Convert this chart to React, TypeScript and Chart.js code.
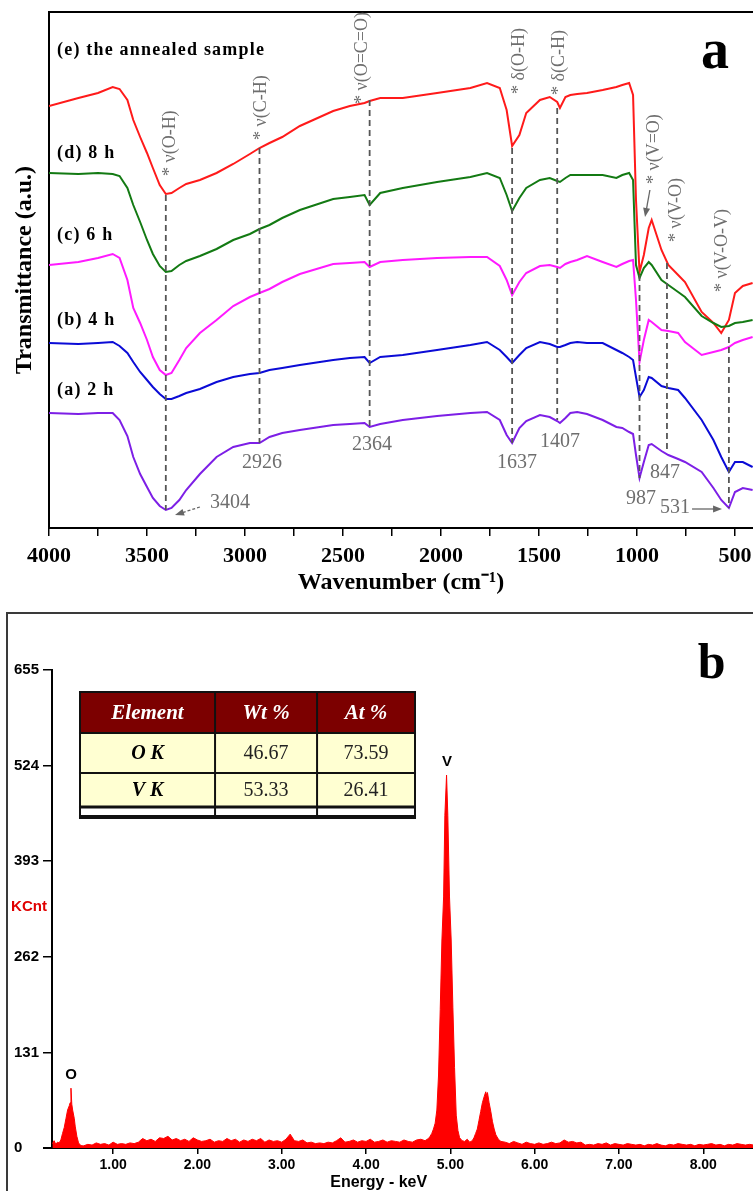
import React, { useEffect, useRef } from 'react';
import { Chart, registerables } from 'chart.js';

Chart.register(...registerables);

const SERIF = '"Liberation Serif", "Times New Roman", serif';
const SANS = '"Liberation Sans", Arial, sans-serif';

// ---------------- Panel a : FTIR ----------------
const wavenumbers = [4000, 3850, 3750, 3675, 3640, 3600, 3570, 3535, 3500, 3470, 3435, 3404, 3375, 3335, 3300, 3230, 3145, 3060, 2975, 2926, 2875, 2810, 2720, 2550, 2465, 2390, 2364, 2310, 2195, 2020, 1850, 1765, 1700, 1665, 1637, 1600, 1565, 1495, 1445, 1407, 1393, 1365, 1340, 1305, 1255, 1175, 1105, 1075, 1040, 1020, 1005, 987, 965, 940, 925, 875, 840, 790, 755, 670, 610, 570, 531, 500, 460, 410];

const series2h = [23, 22.8, 23, 23, 21.6, 18.4, 14.2, 10.8, 8.2, 6, 4.4, 3.6, 4, 5.6, 7.6, 10.8, 14.2, 16.2, 17, 17, 18.2, 19, 19.6, 20.6, 20.8, 21, 20.2, 20.8, 21.6, 22.4, 23, 23.2, 21.6, 18.6, 17, 20, 21.4, 22.6, 22.2, 21.4, 21, 22, 23, 23.2, 22.8, 21.6, 20.2, 20, 19.2, 18.8, 14.6, 10, 13.2, 16.6, 16.8, 15.4, 14.6, 13.8, 13.2, 11.2, 8, 5.6, 4, 7.2, 8, 7.6];
const series4h = [37, 36.8, 37, 37.2, 36.4, 35, 33.2, 31.2, 29.6, 28.2, 26.8, 25.8, 25.8, 26.4, 27, 27.8, 29.2, 30.2, 30.8, 31, 31.6, 32, 32.6, 33.6, 34, 34.2, 33, 34.2, 34.6, 35.6, 36.6, 37.2, 35.6, 34.2, 33, 34.6, 36, 37.2, 36.8, 36.2, 36.2, 36.6, 37, 37.2, 37, 37, 35.6, 35, 34.2, 33.6, 30.2, 26.2, 27.6, 30.2, 30, 28.4, 28, 27.6, 26, 21.6, 17.6, 14.2, 11.2, 13.2, 13.2, 12.2];
const series6h = [52.6, 53.2, 54, 54.8, 54, 49.6, 44, 41, 37.6, 34.2, 31.6, 30.6, 31, 33.6, 36, 39, 41.6, 44.4, 46.2, 47, 47.8, 49.2, 50.8, 52.8, 53, 53.2, 52.2, 53.2, 53.6, 54, 54.2, 54.2, 52.4, 49.6, 46.6, 49.2, 51, 52.4, 52.6, 52.2, 52, 52.8, 53.2, 53.6, 54.4, 53.2, 52.2, 52.8, 53.4, 53.6, 45.6, 33.2, 37.6, 41.6, 41.2, 39.6, 39.4, 39, 37.2, 34.6, 35.2, 35.6, 36.2, 37, 37.6, 38.2];
const series8h = [71, 70.8, 71, 70.8, 70.4, 68, 64.6, 61.2, 57.6, 54.8, 52.4, 51.2, 51.4, 52.6, 53.4, 54.4, 55.8, 57.6, 58.8, 59.8, 60.6, 62, 63.6, 65.8, 66.2, 66.6, 64.6, 67, 68, 69.2, 70.2, 71, 70, 66.6, 63.4, 66, 68, 69.6, 70, 69.4, 69.2, 70, 70.6, 70.6, 70.6, 70.6, 70, 70.6, 71, 69.6, 52.6, 50, 52, 53.2, 52.6, 49.6, 48.6, 47.2, 46.2, 42.4, 41, 40.2, 40.4, 41, 41.2, 41.6];
const seriesAnnealed = [84.4, 86, 87, 88.2, 87.8, 85.6, 81.6, 78.2, 75, 72, 68.6, 66.8, 67, 68, 68.8, 69.6, 71, 72.8, 74.8, 76, 77, 78.2, 80.4, 83.4, 84.4, 85, 85.4, 86, 86, 87, 88, 89, 88, 83.6, 76.4, 78.6, 83, 85.6, 86.2, 85.2, 84, 86.2, 86.6, 86.8, 87, 87.6, 88.2, 88.6, 89, 86.6, 65.6, 51.2, 54.6, 60, 61.6, 55.6, 52.6, 50.6, 49.2, 43.2, 41, 39, 41.6, 47, 48.4, 49];

const seriesNames = ['(a) 2 h', '(b) 4 h', '(c) 6 h', '(d) 8 h', '(e) the annealed sample'];
const seriesColors = ['#7d1fe6', '#0b0bd6', '#ff1aff', '#137a13', '#ff1a1a'];
const seriesLabelY = [27.6, 41.6, 58.6, 75, 95.6];
const seriesLabelX = 3959;

const ftirTickValues = [4000, 3750, 3500, 3250, 3000, 2750, 2500, 2250, 2000, 1750, 1500, 1250, 1000, 750, 500];
const ftirTickLabels = ['4000', '', '3500', '', '3000', '', '2500', '', '2000', '', '1500', '', '1000', '', '500'];

const bandLines = [3404, 2926, 2364, 1637, 1407, 987, 847, 531];
const bandLineTop = [66.6, 76, 85.6, 76, 84, 50.6, 53, 38.2];
const bandLineBottom = [3.6, 17, 20.2, 17, 21.6, 10, 15, 4];
const bandNumberText = ['3404', '2926', '2364', '1637', '1407', '987', '847', '531'];
const bandNumberX = [3077, 2913, 2352, 1612, 1393, 980, 857, 806];
const bandNumberY = [5, 13, 16.6, 13, 17.2, 5.8, 11, 4];

const modeText = ['* ν(O-H)', '* ν(C-H)', '* ν(O=C=O)', '* δ(O-H)', '* δ(C-H)', '* ν(V=O)', '* ν(V-O)', '* ν(V-O-V)'];
const modeX = [3383, 2918, 2403, 1602, 1398, 913, 801, 566];
const modeY = [70.4, 77.6, 84.8, 86.8, 86.6, 68.8, 57.2, 47.2];

const arrowFromX = [3230, 719, 934];
const arrowFromY = [4.2, 3.8, 67.6];
const arrowToX = [3357, 566, 959];
const arrowToY = [2.6, 3.8, 62.2];

// ---------------- Panel b : EDS ----------------
const edsEnergy = [
  0.28, 0.30, 0.32, 0.34, 0.36, 0.38, 0.40, 0.42, 0.44, 0.46, 0.48, 0.49, 0.50, 0.51, 0.52, 0.54, 0.55, 0.57, 0.59, 0.61, 0.63,
  0.65, 0.70, 0.75, 0.80, 0.85, 0.90, 0.95, 1.00, 1.05, 1.10, 1.15, 1.20, 1.25, 1.30, 1.35, 1.40, 1.45, 1.50, 1.55, 1.60,
  1.65, 1.70, 1.75, 1.80, 1.85, 1.90, 1.95, 2.00, 2.05, 2.10, 2.15, 2.20, 2.25, 2.30, 2.35, 2.40, 2.45, 2.50, 2.55, 2.60,
  2.65, 2.70, 2.75, 2.80, 2.85, 2.90, 2.95, 3.00, 3.05, 3.10, 3.15, 3.20, 3.25, 3.30, 3.35, 3.40, 3.45, 3.50, 3.55, 3.60,
  3.65, 3.70, 3.75, 3.80, 3.85, 3.90, 3.95, 4.00, 4.05, 4.10, 4.15, 4.20, 4.25, 4.30, 4.35, 4.40, 4.45, 4.50, 4.55, 4.60,
  4.65, 4.70,
  4.74, 4.76, 4.78, 4.80, 4.82, 4.84, 4.86, 4.88, 4.90, 4.92, 4.935, 4.955, 4.97, 4.99, 5.01, 5.03, 5.05, 5.07, 5.09, 5.11, 5.14,
  5.17, 5.20, 5.23, 5.26,
  5.28, 5.30, 5.32, 5.34, 5.36, 5.38, 5.40, 5.42, 5.43, 5.44, 5.46, 5.48, 5.50, 5.52, 5.54, 5.57, 5.60,
  5.65, 5.70, 5.75, 5.80, 5.85, 5.90, 5.95, 6.00, 6.05, 6.10, 6.15, 6.20, 6.25, 6.30, 6.35, 6.40, 6.45, 6.50, 6.55, 6.60,
  6.65, 6.70, 6.75, 6.80, 6.85, 6.90, 6.95, 7.00, 7.05, 7.10, 7.15, 7.20, 7.25, 7.30, 7.35, 7.40, 7.45, 7.50, 7.55, 7.60,
  7.65, 7.70, 7.75, 7.80, 7.85, 7.90, 7.95, 8.00, 8.05, 8.10, 8.15, 8.20, 8.25, 8.30, 8.35, 8.40, 8.45, 8.50, 8.55, 8.60
];
const edsCounts = [
  6, 10, 5, 8, 7, 11, 20, 28, 40, 52, 58, 62, 82, 60, 52, 40, 30, 16, 7, 4, 3,
  3, 5, 4, 7, 5, 6, 4, 8, 5, 6, 5, 7, 6, 8, 13, 10, 12, 9, 14, 13,
  16, 11, 13, 10, 12, 9, 14, 11, 9, 10, 12, 8, 10, 9, 13, 10, 12, 8, 11, 9,
  12, 10, 13, 8, 11, 9, 10, 8, 12, 19, 10, 9, 11, 7, 8, 6, 7, 6, 8, 7,
  10, 14, 8, 9, 11, 8, 10, 9, 12, 8, 9, 11, 8, 10, 9, 8, 11, 9, 8, 11,
  12, 10,
  13, 16, 20, 26, 34, 52, 100, 190, 285, 344, 456, 511, 456, 344, 285, 193, 110, 45, 24, 14, 10,
  9, 12, 8, 10,
  14, 20, 26, 38, 50, 62, 70, 77, 72, 76, 62, 50, 36, 26, 18, 12, 9,
  8, 6, 9, 7, 5, 8, 6, 5, 7, 5, 6, 8, 6, 7, 11, 8, 9, 7, 8, 4,
  5, 4, 6, 5, 7, 4, 6, 5, 4, 6, 5, 4, 5, 3, 5, 4, 6, 4, 3, 5,
  4, 6, 5, 4, 5, 3, 5, 4, 5, 6, 4, 5, 3, 5, 4, 6, 5, 4, 5, 4
];

const edsXTickValues = [1, 2, 3, 4, 5, 6, 7, 8];
const edsXTickLabels = ['1.00', '2.00', '3.00', '4.00', '5.00', '6.00', '7.00', '8.00'];
const edsYTickValues = [0, 131, 262, 393, 524, 655];
const edsYTickLabels = ['0', '131', '262', '393', '524', '655'];

const peakNames = ['O', 'V'];
const peakNameX = [0.5, 4.96];
const peakNameY = [100, 529];

const tableHeader = ['Element', 'Wt %', 'At %'];
const tableElements = ['O K', 'V K'];
const tableWt = ['46.67', '53.33'];
const tableAt = ['73.59', '26.41'];
const tableColEdges = [0.607, 2.209, 3.419, 4.581];
const tableRowEdges = [624.8, 568.7, 513.8, 467.3, 450.8];

function arrow(ctx: CanvasRenderingContext2D, x1: number, y1: number, x2: number, y2: number) {
  const ang = Math.atan2(y2 - y1, x2 - x1);
  ctx.beginPath();
  ctx.moveTo(x1, y1);
  ctx.lineTo(x2 - 6 * Math.cos(ang), y2 - 6 * Math.sin(ang));
  ctx.stroke();
  ctx.beginPath();
  ctx.moveTo(x2, y2);
  ctx.lineTo(x2 - 9 * Math.cos(ang) + 3.5 * Math.sin(ang), y2 - 9 * Math.sin(ang) - 3.5 * Math.cos(ang));
  ctx.lineTo(x2 - 9 * Math.cos(ang) - 3.5 * Math.sin(ang), y2 - 9 * Math.sin(ang) + 3.5 * Math.cos(ang));
  ctx.closePath();
  ctx.fill();
}

const ftirDecor = {
  id: 'ftirDecor',
  afterDatasetsDraw(chart: any) {
    const { ctx, chartArea } = chart;
    const x = chart.scales.x;
    const y = chart.scales.y;
    ctx.save();
    // top frame
    ctx.strokeStyle = '#000';
    ctx.lineWidth = 2;
    ctx.beginPath();
    ctx.moveTo(chartArea.left - 1, chartArea.top);
    ctx.lineTo(chartArea.right, chartArea.top);
    ctx.stroke();

    // dashed band markers
    ctx.setLineDash([6, 4]);
    ctx.strokeStyle = '#555';
    ctx.lineWidth = 1.8;
    bandLines.forEach((w, i) => {
      const px = x.getPixelForValue(w);
      ctx.beginPath();
      ctx.moveTo(px, y.getPixelForValue(bandLineTop[i]));
      ctx.lineTo(px, y.getPixelForValue(bandLineBottom[i]));
      ctx.stroke();
    });
    ctx.setLineDash([]);

    // band numbers
    ctx.fillStyle = '#6e6e6e';
    ctx.font = `20px ${SERIF}`;
    ctx.textAlign = 'center';
    ctx.textBaseline = 'middle';
    bandNumberText.forEach((t, i) => {
      ctx.fillText(t, x.getPixelForValue(bandNumberX[i]), y.getPixelForValue(bandNumberY[i]));
    });

    // vibration mode labels (rotated)
    ctx.font = `18px ${SERIF}`;
    ctx.textAlign = 'left';
    modeText.forEach((t, i) => {
      ctx.save();
      ctx.translate(x.getPixelForValue(modeX[i]), y.getPixelForValue(modeY[i]));
      ctx.rotate(-Math.PI / 2);
      ctx.fillText(t, 0, 0);
      ctx.restore();
    });

    // arrows
    ctx.strokeStyle = '#666';
    ctx.fillStyle = '#666';
    ctx.lineWidth = 1.3;
    arrowFromX.forEach((_, i) => {
      if (i === 0) ctx.setLineDash([3, 2]); else ctx.setLineDash([]);
      arrow(ctx, x.getPixelForValue(arrowFromX[i]), y.getPixelForValue(arrowFromY[i]), x.getPixelForValue(arrowToX[i]), y.getPixelForValue(arrowToY[i]));
    });
    ctx.setLineDash([]);

    // sample labels
    ctx.fillStyle = '#000';
    ctx.font = `bold 18px ${SERIF}`;
    (ctx as any).letterSpacing = '1.2px';
    ctx.textAlign = 'left';
    seriesNames.forEach((n, i) => {
      ctx.fillText(n, x.getPixelForValue(seriesLabelX), y.getPixelForValue(seriesLabelY[i]));
    });
    (ctx as any).letterSpacing = '0px';

    // panel letter
    ctx.font = `bold 56px ${SERIF}`;
    ctx.textAlign = 'center';
    ctx.textBaseline = 'alphabetic';
    ctx.fillText('a', x.getPixelForValue(602), y.getPixelForValue(92));
    ctx.restore();
  }
};

const edsDecor = {
  id: 'edsDecor',
  afterDraw(chart: any) {
    const { ctx, chartArea, width, height } = chart;
    const x = chart.scales.x;
    const y = chart.scales.y;
    ctx.save();
    // panel frame
    ctx.strokeStyle = '#3a3a3a';
    ctx.lineWidth = 2;
    ctx.beginPath();
    ctx.moveTo(7, height);
    ctx.lineTo(7, 13);
    ctx.lineTo(width, 13);
    ctx.stroke();

    // x-axis line extension to the left of the y axis
    ctx.strokeStyle = '#000';
    ctx.beginPath();
    ctx.moveTo(chartArea.left - 9, chartArea.bottom);
    ctx.lineTo(chartArea.left, chartArea.bottom);
    ctx.stroke();

    // KCnt
    ctx.fillStyle = '#e00000';
    ctx.font = `bold 15px ${SANS}`;
    ctx.textAlign = 'center';
    ctx.textBaseline = 'middle';
    ctx.fillText('KCnt', 29, y.getPixelForValue(330));

    // axis title
    ctx.fillStyle = '#000';
    ctx.font = `bold 16px ${SANS}`;
    ctx.fillText('Energy - keV', x.getPixelForValue(4.15), chartArea.bottom + 35);

    // peak names
    ctx.font = `bold 15px ${SANS}`;
    peakNames.forEach((p, i) => {
      ctx.fillText(p, x.getPixelForValue(peakNameX[i]), y.getPixelForValue(peakNameY[i]));
    });

    // panel letter
    ctx.font = `bold 50px ${SERIF}`;
    ctx.textBaseline = 'alphabetic';
    ctx.fillText('b', x.getPixelForValue(8.1), y.getPixelForValue(644));

    // table
    const xs = tableColEdges.map((v) => x.getPixelForValue(v));
    const ys = tableRowEdges.map((v) => y.getPixelForValue(v));
    ctx.fillStyle = '#7c0000';
    ctx.fillRect(xs[0], ys[0], xs[3] - xs[0], ys[1] - ys[0]);
    ctx.fillStyle = '#ffffd2';
    ctx.fillRect(xs[0], ys[1], xs[3] - xs[0], ys[3] - ys[1]);
    ctx.fillStyle = '#ffffff';
    ctx.fillRect(xs[0], ys[3], xs[3] - xs[0], ys[4] - ys[3]);
    ctx.strokeStyle = '#111';
    const hline = (yy: number, w: number) => {
      ctx.lineWidth = w;
      ctx.beginPath();
      ctx.moveTo(xs[0] - 1, yy);
      ctx.lineTo(xs[3] + 1, yy);
      ctx.stroke();
    };
    hline(ys[0], 2);
    hline(ys[1], 2);
    hline(ys[2], 2);
    hline(ys[3], 3);
    hline(ys[4] - 2, 4);
    ctx.lineWidth = 2;
    xs.forEach((xx) => {
      ctx.beginPath();
      ctx.moveTo(xx, ys[0]);
      ctx.lineTo(xx, ys[4]);
      ctx.stroke();
    });
    ctx.textAlign = 'center';
    ctx.textBaseline = 'middle';
    ctx.fillStyle = '#ffffff';
    ctx.font = `italic bold 21px ${SERIF}`;
    tableHeader.forEach((h, i) => {
      ctx.fillText(h, (xs[i] + xs[i + 1]) / 2, (ys[0] + ys[1]) / 2 + 1);
    });
    tableElements.forEach((el, r) => {
      const cy = (ys[r + 1] + ys[r + 2]) / 2 + 1;
      ctx.fillStyle = '#000';
      ctx.font = `italic bold 20px ${SERIF}`;
      ctx.fillText(el, (xs[0] + xs[1]) / 2, cy);
      ctx.fillStyle = '#222';
      ctx.font = `20px ${SERIF}`;
      ctx.fillText(tableWt[r], (xs[1] + xs[2]) / 2, cy);
      ctx.fillText(tableAt[r], (xs[2] + xs[3]) / 2, cy);
    });
    ctx.restore();
  }
};

function FtirChart() {
  const ref = useRef<HTMLCanvasElement>(null);
  useEffect(() => {
    const data = [series2h, series4h, series6h, series8h, seriesAnnealed];
    const chart = new Chart(ref.current as HTMLCanvasElement, {
      type: 'line',
      data: {
        datasets: data.map((vals, k) => ({
          label: seriesNames[k],
          data: wavenumbers.map((w, i) => ({ x: w, y: vals[i] })),
          borderColor: seriesColors[k],
          backgroundColor: seriesColors[k],
          borderWidth: 2,
          pointRadius: 0,
          tension: 0,
          fill: false
        }))
      },
      options: {
        responsive: false,
        animation: false,
        devicePixelRatio: 1,
        layout: { padding: { top: 12, left: 0, right: 10, bottom: 0 } },
        plugins: { legend: { display: false }, tooltip: { enabled: false } },
        scales: {
          x: {
            type: 'linear',
            reverse: true,
            min: 408,
            max: 4000,
            afterFit: (s: any) => { s.height = 72; },
            afterBuildTicks: (s: any) => { s.ticks = ftirTickValues.map((v) => ({ value: v })); },
            ticks: {
              autoSkip: false,
              maxRotation: 0,
              padding: 7,
              color: '#000',
              font: { family: SERIF, size: 22, weight: 'bold' },
              callback: (_v: any, i: number) => ftirTickLabels[i]
            },
            grid: { display: true, drawOnChartArea: false, drawTicks: true, tickLength: 8, color: '#000', lineWidth: 1.5 },
            border: { display: true, color: '#000', width: 2 },
            title: {
              display: true,
              text: 'Wavenumber (cm⁻¹)',
              color: '#000',
              font: { family: SERIF, size: 24, weight: 'bold' },
              padding: { top: 0, bottom: 3 }
            }
          },
          y: {
            min: 0,
            max: 103.2,
            afterFit: (s: any) => { s.width = 49; },
            ticks: { display: false },
            grid: { display: false },
            border: { display: true, color: '#000', width: 2 },
            title: {
              display: true,
              text: 'Transmittance (a.u.)',
              color: '#000',
              font: { family: SERIF, size: 24, weight: 'bold' },
              padding: { top: 10, bottom: 0 }
            }
          }
        }
      } as any,
      plugins: [ftirDecor]
    });
    return () => chart.destroy();
  }, []);
  return <canvas ref={ref} width={763} height={600} style={{ position: 'absolute', left: 0, top: 0 }} />;
}

function EdsChart() {
  const ref = useRef<HTMLCanvasElement>(null);
  useEffect(() => {
    const chart = new Chart(ref.current as HTMLCanvasElement, {
      type: 'line',
      data: {
        datasets: [{
          label: 'EDS',
          data: edsEnergy.map((e, i) => ({ x: e, y: edsCounts[i] })),
          borderColor: '#ff0000',
          backgroundColor: '#ff0000',
          borderWidth: 1,
          pointRadius: 0,
          tension: 0,
          fill: 'origin'
        }]
      },
      options: {
        responsive: false,
        animation: false,
        devicePixelRatio: 1,
        layout: { padding: { top: 70, left: 14, right: 0, bottom: 0 } },
        plugins: { legend: { display: false }, tooltip: { enabled: false } },
        scales: {
          x: {
            type: 'linear',
            min: 0.275,
            max: 8.59,
            afterFit: (s: any) => { s.height = 43; },
            afterBuildTicks: (s: any) => { s.ticks = edsXTickValues.map((v) => ({ value: v })); },
            ticks: {
              autoSkip: false,
              maxRotation: 0,
              padding: 3,
              color: '#000',
              font: { family: SANS, size: 14, weight: 'bold' },
              callback: (_v: any, i: number) => edsXTickLabels[i]
            },
            grid: { display: true, drawOnChartArea: false, drawTicks: true, tickLength: 6, color: '#000', lineWidth: 1.5 },
            border: { display: true, color: '#000', width: 2 }
          },
          y: {
            min: 0,
            max: 655,
            afterFit: (s: any) => { s.width = 38; },
            afterBuildTicks: (s: any) => { s.ticks = edsYTickValues.map((v) => ({ value: v })); },
            ticks: {
              autoSkip: false,
              crossAlign: 'far',
              padding: 3,
              color: '#000',
              font: { family: SANS, size: 15, weight: 'bold' },
              callback: (_v: any, i: number) => edsYTickLabels[i]
            },
            grid: { display: true, drawOnChartArea: false, drawTicks: true, tickLength: 9, color: '#000', lineWidth: 1.5 },
            border: { display: true, color: '#000', width: 2 }
          }
        }
      } as any,
      plugins: [edsDecor]
    });
    return () => chart.destroy();
  }, []);
  return <canvas ref={ref} width={753} height={591} style={{ position: 'absolute', left: 0, top: 600 }} />;
}

export default function App() {
  return (
    <div style={{ position: 'absolute', left: 0, top: 0, width: 753, height: 1191, overflow: 'hidden', background: '#fff' }}>
      <FtirChart />
      <EdsChart />
    </div>
  );
}
